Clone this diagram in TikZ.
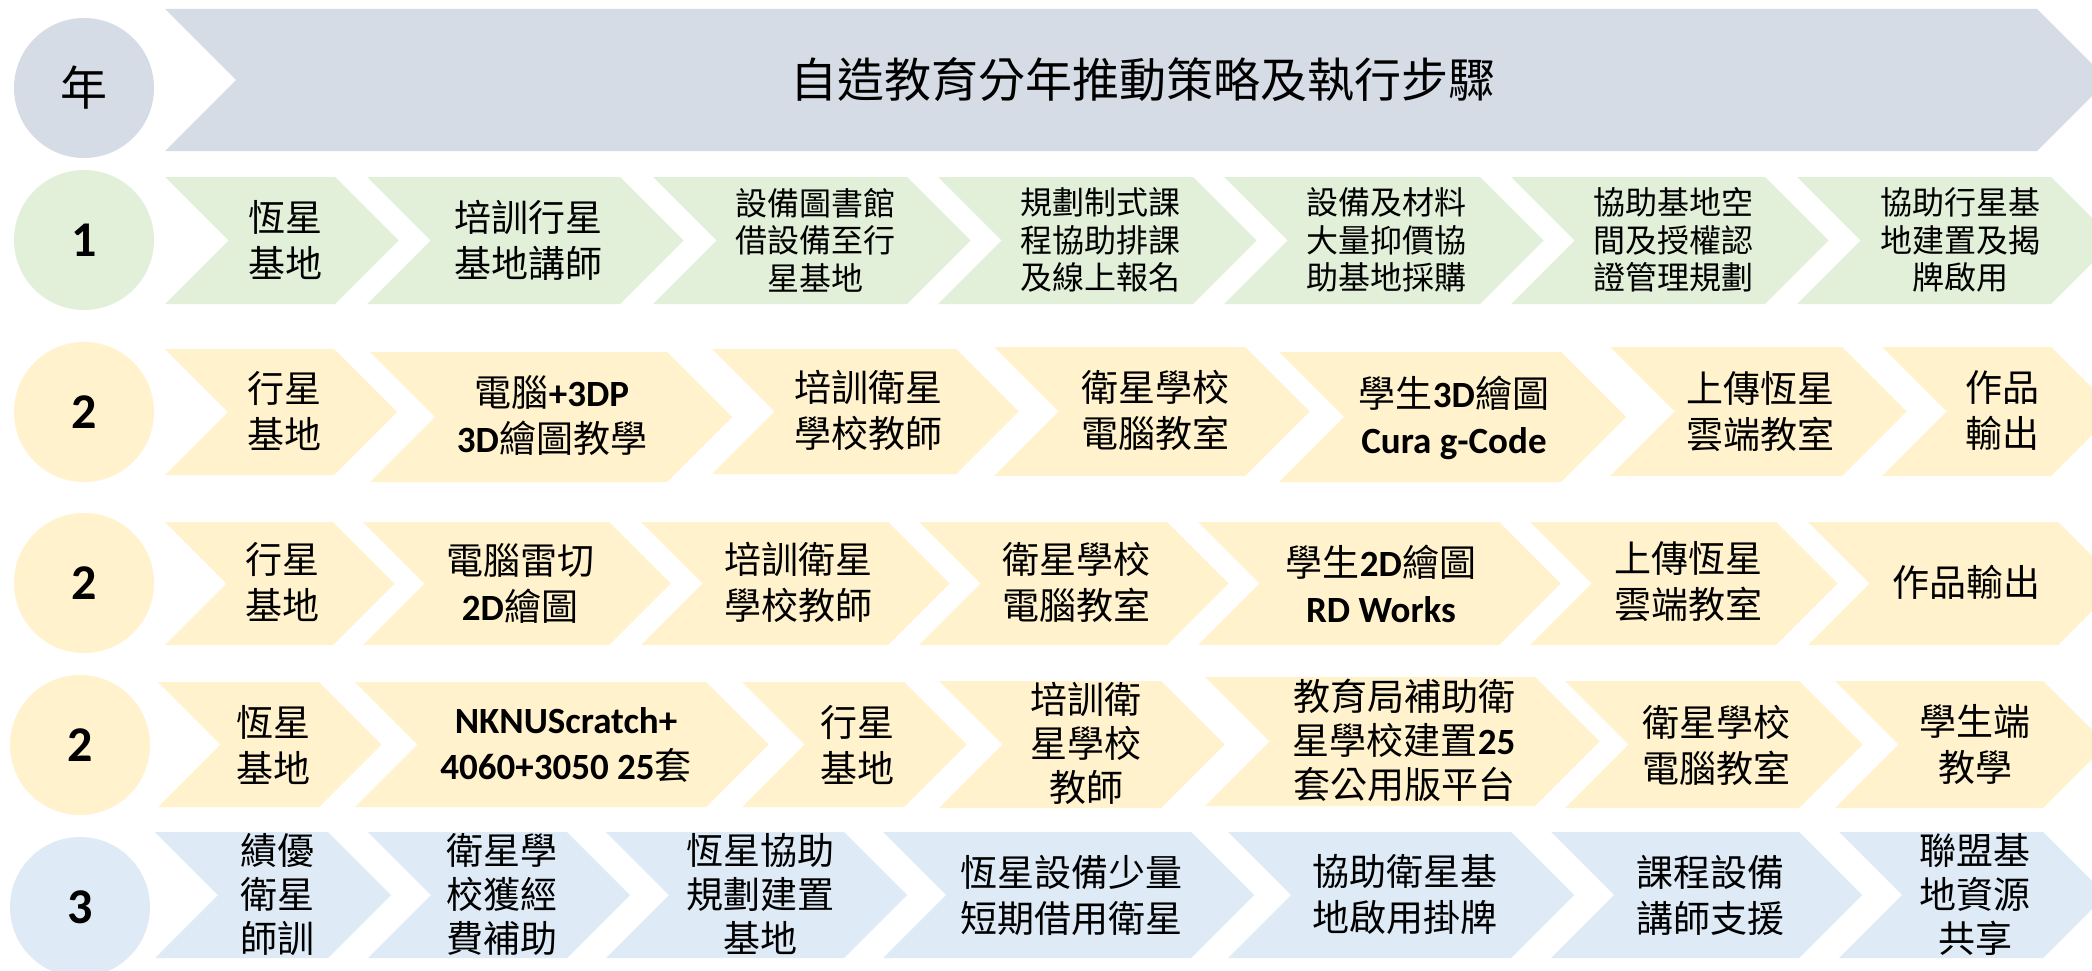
\documentclass[tikz,border=0pt]{standalone}
\usepackage{fontspec}
\setmainfont{Noto Sans CJK TC}
\newfontfamily\lat{Carlito}
\newcommand\LB[1]{{\lat\bfseries #1}}
\definecolor{hdr}{HTML}{D6DCE5}
\definecolor{grn}{HTML}{E2F0D9}
\definecolor{ylw}{HTML}{FFF2CC}
\definecolor{blu}{HTML}{DEEBF7}
% chevron: colour, x left, x right-top, y top, y bottom
\newcommand\chev[5]{%
  \pgfmathsetmacro\chM{(#4+#5)/2}%
  \pgfmathsetmacro\chD{(#5-#4)/2}%
  \pgfmathsetmacro\chX{#3+\chD}%
  \pgfmathsetmacro\chN{#2+\chD}%
  \fill[#1] (#2,#4) -- (#3,#4) -- (\chX,\chM) -- (#3,#5) -- (#2,#5) -- (\chN,\chM) -- cycle;}
\begin{document}
\begin{tikzpicture}[x=1pt,y=-1pt,
  t2/.style={align=center,inner sep=0pt,font=\fontsize{37}{46}\selectfont},
  t3/.style={align=center,inner sep=0pt,font=\fontsize{32}{37.5}\selectfont},
  t3b/.style={align=center,inner sep=0pt,font=\fontsize{37}{44}\selectfont},
  yr/.style={circle,inner sep=0pt,minimum size=140pt,font=\fontsize{50}{56}\selectfont}]
\useasboundingbox (0,0) rectangle (2092,971);
\fill[white] (0,0) rectangle (2092,971);
% header
\node[yr,fill=hdr,font=\fontsize{47}{50}\selectfont] (y0) at (84,88) {年};
\chev{hdr}{165}{2037}{9}{151}
\node[inner sep=0pt,font=\fontsize{47}{50}\selectfont] (title) at (1143,80) {自造教育分年推動策略及執行步驟};
% row 1
\node[yr,fill=grn] (y1) at (84,240) {\LB{1}};
\chev{grn}{165}{335}{177}{304}
\chev{grn}{367}{620}{177}{304}
\chev{grn}{653}{907}{177}{304}
\chev{grn}{938}{1193}{177}{304}
\chev{grn}{1224}{1480}{177}{304}
\chev{grn}{1511}{1765}{177}{304}
\chev{grn}{1797}{2051}{177}{304}
\node[t2] (r1c1) at (285,240) {恆星\\基地};
\node[t2] (r1c2) at (528,240) {培訓行星\\基地講師};
\node[t3] (r1c3) at (815,240) {設備圖書館\\借設備至行\\星基地};
\node[t3] (r1c4) at (1100,240) {規劃制式課\\程協助排課\\及線上報名};
\node[t3] (r1c5) at (1386,240) {設備及材料\\大量抑價協\\助基地採購};
\node[t3] (r1c6) at (1673,240) {協助基地空\\間及授權認\\證管理規劃};
\node[t3] (r1c7) at (1960,240) {協助行星基\\地建置及揭\\牌啟用};
% row 2
\node[yr,fill=ylw] (y2) at (84,412) {\LB{2}};
\chev{ylw}{165}{334}{349}{475}
\chev{ylw}{370}{667}{352}{482}
\chev{ylw}{712}{956}{349}{474}
\chev{ylw}{994}{1245}{347}{476}
\chev{ylw}{1279}{1561}{352}{482}
\chev{ylw}{1610}{1842}{347}{476}
\chev{ylw}{1882}{2051}{347}{476}
\node[t2] (r2c1) at (284,411) {行星\\基地};
\node[t2] (r2c2) at (552,416) {電腦\LB{+3DP}\\\LB{3D}繪圖教學};
\node[t2] (r2c3) at (868,410) {培訓衛星\\學校教師};
\node[t2] (r2c4) at (1155,410) {衛星學校\\電腦教室};
\node[t2] (r2c5) at (1454,418) {學生\LB{3D}繪圖\\\LB{Cura g-Code}};
\node[t2] (r2c6) at (1760,412) {上傳恆星\\雲端教室};
\node[t2] (r2c7) at (2002,410) {作品\\輸出};
% row 3
\node[yr,fill=ylw] (y3) at (84,583) {\LB{2}};
\chev{ylw}{165}{333}{522}{645}
\chev{ylw}{363}{609}{522}{645}
\chev{ylw}{641}{888}{522}{645}
\chev{ylw}{919}{1167}{522}{645}
\chev{ylw}{1198}{1499}{522}{645}
\chev{ylw}{1530}{1776}{522}{645}
\chev{ylw}{1808}{2058}{522}{645}
\node[t2] (r3c1) at (282,582) {行星\\基地};
\node[t2] (r3c2) at (520,584) {電腦雷切\\\LB{2D}繪圖};
\node[t2] (r3c3) at (798,582) {培訓衛星\\學校教師};
\node[t2] (r3c4) at (1076,582) {衛星學校\\電腦教室};
\node[t2] (r3c5) at (1381,584) {學生\LB{2D}繪圖\\\LB{RD Works}};
\node[t2] (r3c6) at (1688,582) {上傳恆星\\雲端教室};
\node[t2] (r3c7) at (1966,582) {作品輸出};
% row 4
\node[yr,fill=ylw] (y4) at (80,745) {\LB{2}};
\chev{ylw}{158}{319}{682}{807}
\chev{ylw}{355}{706}{682}{807}
\chev{ylw}{742}{904}{682}{807}
\chev{ylw}{939}{1161}{681}{808}
\chev{ylw}{1205}{1535}{677}{806}
\chev{ylw}{1565}{1799}{681}{808}
\chev{ylw}{1835}{2043}{681}{808}
\node[t2] (r4c1) at (273,745) {恆星\\基地};
\node[t2] (r4c2) at (566,745) {\LB{NKNUScratch+}\\\LB{4060+3050 25}套};
\node[t2] (r4c3) at (857,745) {行星\\基地};
\node[t3b] (r4c4) at (1086,743) {培訓衛\\星學校\\教師};
\node[t3b] (r4c5) at (1404,740) {教育局補助衛\\星學校建置\LB{25}\\套公用版平台};
\node[t2] (r4c6) at (1716,745) {衛星學校\\電腦教室};
\node[t2] (r4c7) at (1975,744) {學生端\\教學};
% row 5
\node[yr,fill=blu] (y5) at (80,907) {\LB{3}};
\chev{blu}{155}{328}{832}{958}
\chev{blu}{368}{567}{832}{958}
\chev{blu}{606}{844}{832}{958}
\chev{blu}{883}{1191}{832}{958}
\chev{blu}{1228}{1511}{832}{958}
\chev{blu}{1551}{1799}{832}{958}
\chev{blu}{1839}{2043}{832}{958}
\node[t3b] (r5c1) at (277,894) {績優\\衛星\\師訓};
\node[t3b] (r5c2) at (502,894) {衛星學\\校獲經\\費補助};
\node[t3b] (r5c3) at (760,894) {恆星協助\\規劃建置\\基地};
\node[t2] (r5c4) at (1071,895) {恆星設備少量\\短期借用衛星};
\node[t2] (r5c5) at (1405,895) {協助衛星基\\地啟用掛牌};
\node[t2] (r5c6) at (1710,895) {課程設備\\講師支援};
\node[t3b] (r5c7) at (1975,894) {聯盟基\\地資源\\共享};
\end{tikzpicture}
\end{document}
